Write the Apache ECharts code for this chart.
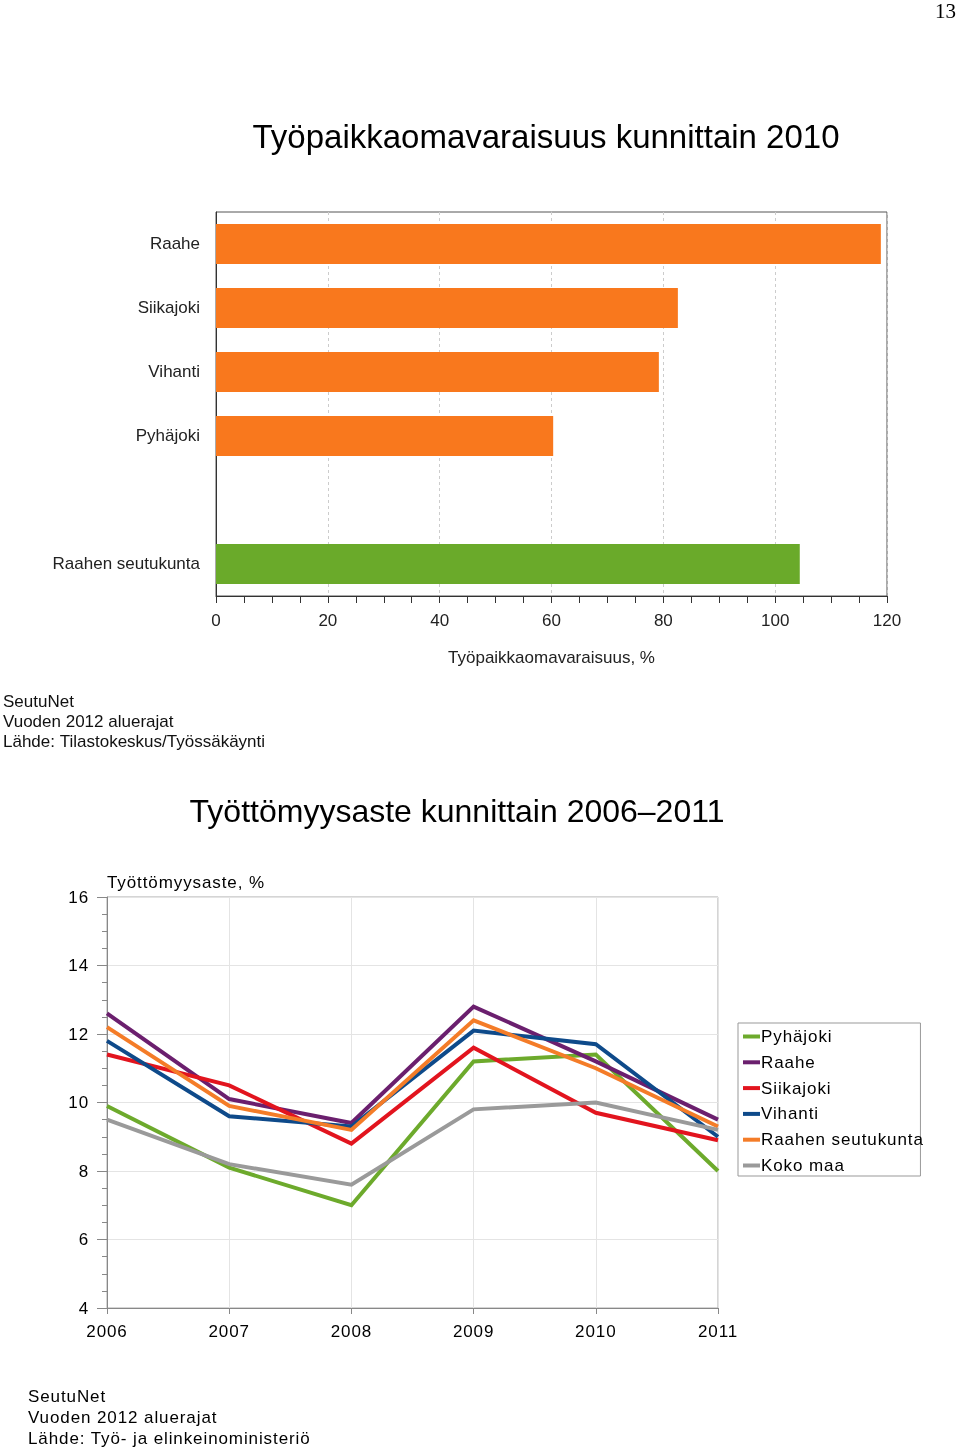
<!DOCTYPE html>
<html>
<head>
<meta charset="utf-8">
<script src="https://cdn.jsdelivr.net/npm/echarts@6/dist/echarts.min.js"></script>
<style>
html,body{margin:0;padding:0;background:#fff;}
#wrap{position:relative;width:960px;height:1449px;}
#chartTop,#chartBottom{position:absolute;left:0;top:0;width:960px;height:1449px;}
#chartBottom{letter-spacing:0.9px;}
</style>
</head>
<body>
<div id="wrap">
<div id="chartTop"></div>
<div id="chartBottom"></div>
</div>
<script>
// ---- Bar chart data (Työpaikkaomavaraisuus 2010) ----
var barCategories = ['Raahe', 'Siikajoki', 'Vihanti', 'Pyhäjoki', '', 'Raahen seutukunta'];
var barValues = [118.9, 82.6, 79.2, 60.3, null, 104.4];
var barTicks = [0, 20, 40, 60, 80, 100, 120];

// ---- Line chart data (Työttömyysaste 2006–2011) ----
var years = ['2006', '2007', '2008', '2009', '2010', '2011'];
var pyhajoki = [9.9, 8.1, 7.0, 11.2, 11.4, 8.0];
var raahe = [12.6, 10.1, 9.4, 12.8, 11.2, 9.5];
var siikajoki = [11.4, 10.5, 8.8, 11.6, 9.7, 8.9];
var vihanti = [11.8, 9.6, 9.3, 12.1, 11.7, 9.0];
var raahenSeutukunta = [12.2, 9.9, 9.2, 12.4, 11.0, 9.3];
var kokoMaa = [9.5, 8.2, 7.6, 9.8, 10.0, 9.2];
var lineTicks = [4, 6, 8, 10, 12, 14, 16];

var FONT = "'Liberation Sans', Arial, sans-serif";

// ===== Top canvas: bar chart, titles, first footnote =====
var chartTop = echarts.init(document.getElementById('chartTop'), null, {renderer: 'canvas'});
chartTop.setOption({
  animation: false,
  backgroundColor: '#ffffff',
  textStyle: {fontFamily: FONT},
  grid: {left: 216, top: 212, width: 671, height: 384, show: true, borderColor: '#555', borderWidth: 1},
  xAxis: {
    type: 'value', min: barTicks[0], max: barTicks[barTicks.length - 1], interval: 20,
    axisLine: {show: true, lineStyle: {color: '#333', width: 1}},
    axisTick: {show: true, length: 7, lineStyle: {color: '#333'}},
    minorTick: {show: true, splitNumber: 4, length: 7, lineStyle: {color: '#333'}},
    axisLabel: {fontSize: 17, color: '#222', margin: 17, fontFamily: FONT},
    splitLine: {show: true, lineStyle: {color: '#ccc', type: [3, 3], width: 1}},
    name: 'Työpaikkaomavaraisuus, %', nameLocation: 'middle', nameGap: 54,
    nameTextStyle: {fontSize: 17, color: '#222', fontFamily: FONT}
  },
  yAxis: {
    type: 'category', data: barCategories, inverse: true,
    axisLine: {show: true, lineStyle: {color: '#333', width: 1}},
    axisTick: {show: false},
    axisLabel: {fontSize: 17, color: '#222', margin: 16, fontFamily: FONT},
    splitLine: {show: false}
  },
  graphic: [
    {type: 'text', left: 935, top: 2, style: {text: '13', font: "21px 'Liberation Serif', 'DejaVu Serif', serif", fill: '#000'}},
    {type: 'text', x: 546, y: 139, style: {text: 'Työpaikkaomavaraisuus kunnittain 2010', font: '33px ' + FONT, fill: '#000', textAlign: 'center', textVerticalAlign: 'middle'}},
    {type: 'text', x: 3, y: 692, style: {text: 'SeutuNet\nVuoden 2012 aluerajat\nLähde: Tilastokeskus/Työssäkäynti', font: '17px ' + FONT, fill: '#111', lineHeight: 20, textVerticalAlign: 'top'}},
    {type: 'text', x: 457, y: 813, style: {text: 'Työttömyysaste kunnittain 2006–2011', font: '32px ' + FONT, fill: '#000', textAlign: 'center', textVerticalAlign: 'middle'}}
  ],
  series: [{
    type: 'bar',
    data: barValues,
    barWidth: 40,
    itemStyle: {
      color: function (p) { return p.dataIndex === 5 ? '#6AAA2A' : '#F9781D'; }
    },
    silent: true
  }]
});

// ===== Bottom SVG overlay: line chart =====
var lineSeriesDefs = [
  {name: 'Pyhäjoki', data: pyhajoki, color: '#6DAA2C'},
  {name: 'Raahe', data: raahe, color: '#6B1F6E'},
  {name: 'Siikajoki', data: siikajoki, color: '#E2141E'},
  {name: 'Vihanti', data: vihanti, color: '#0E4A8A'},
  {name: 'Raahen seutukunta', data: raahenSeutukunta, color: '#F47C28'},
  {name: 'Koko maa', data: kokoMaa, color: '#9A9A9A'}
];
var chartBottom = echarts.init(document.getElementById('chartBottom'), null, {renderer: 'svg'});
chartBottom.setOption({
  animation: false,
  backgroundColor: 'transparent',
  textStyle: {fontFamily: FONT},
  grid: {left: 107, top: 897, width: 611, height: 411, show: true, borderColor: '#aaa', borderWidth: 1},
  xAxis: {
    type: 'category', data: years, boundaryGap: false,
    axisLine: {show: true, lineStyle: {color: '#888', width: 1}},
    axisTick: {show: true, length: 6, alignWithLabel: true, lineStyle: {color: '#888'}},
    axisLabel: {fontSize: 17, color: '#000', margin: 15, fontFamily: FONT},
    splitLine: {show: true, lineStyle: {color: '#e4e4e4', width: 1}}
  },
  yAxis: {
    type: 'value', min: lineTicks[0], max: lineTicks[lineTicks.length - 1], interval: 2,
    axisLine: {show: true, lineStyle: {color: '#888', width: 1}},
    axisTick: {show: true, length: 10, lineStyle: {color: '#888'}},
    minorTick: {show: true, splitNumber: 4, length: 5, lineStyle: {color: '#888'}},
    axisLabel: {fontSize: 17, color: '#000', margin: 18, fontFamily: FONT},
    splitLine: {show: true, lineStyle: {color: '#e4e4e4', width: 1}},
    name: 'Työttömyysaste, %', nameLocation: 'end', nameGap: 6,
    nameTextStyle: {fontSize: 17, color: '#000', align: 'left', fontFamily: FONT}
  },
  legend: {
    show: true,
    orient: 'vertical',
    left: 738, top: 1023,
    padding: [5, 12, 2, 5],
    borderColor: '#999', borderWidth: 1,
    itemWidth: 17, itemHeight: 4, itemGap: 8.8,
    icon: 'rect',
    textStyle: {fontSize: 17, color: '#000', fontFamily: FONT, padding: [0, 0, 0, -4]},
    data: lineSeriesDefs.map(function (s) { return s.name; })
  },
  graphic: [
    {type: 'text', x: 28, y: 1386, style: {text: 'SeutuNet\nVuoden 2012 aluerajat\nLähde: Työ- ja elinkeinoministeriö', font: '17px ' + FONT, fill: '#000', lineHeight: 21, textVerticalAlign: 'top'}}
  ],
  series: lineSeriesDefs.map(function (s) {
    return {
      type: 'line',
      name: s.name,
      data: s.data,
      showSymbol: false,
      symbol: 'none',
      lineStyle: {color: s.color, width: 4, join: 'miter'},
      itemStyle: {color: s.color},
      silent: true
    };
  })
});
</script>
</body>
</html>
